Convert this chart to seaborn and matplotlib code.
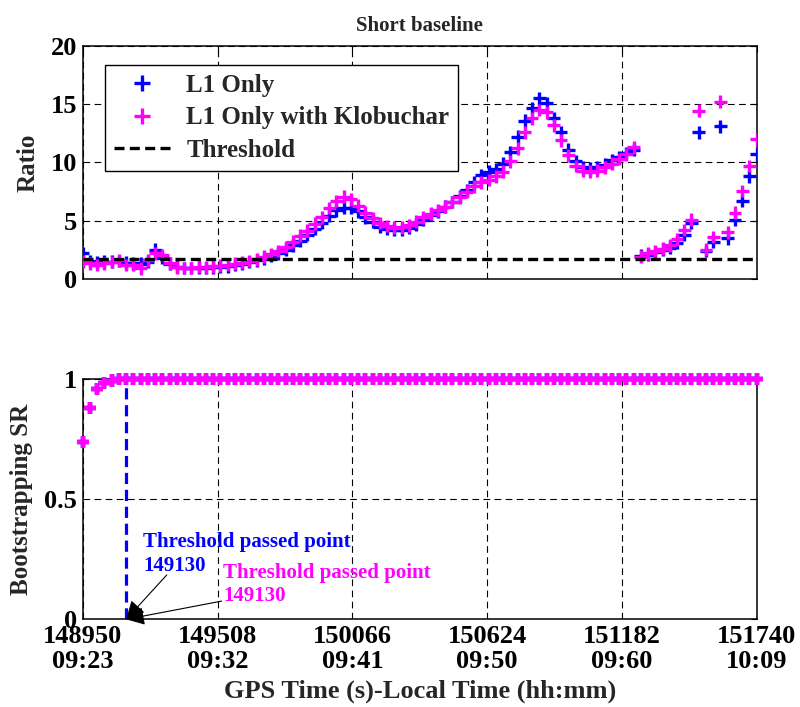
import numpy as np
import pandas as pd
import matplotlib
matplotlib.use("Agg")
import matplotlib.pyplot as plt
import seaborn as sns

# GPS epochs (s), 30 s sampling
gps_time = np.arange(148950, 151741, 30)

# Ratio-test values, L1 only
ratio_l1 = [
    2.2, 1.55, 1.45, 1.5, 1.5, 1.55, 1.4, 1.35, 1.3, 1.5,
    2.5, 1.8, 1.3, 1.05, 0.95, 0.95, 0.95, 0.95, 1.0, 1.05,
    1.1, 1.2, 1.3, 1.45, 1.6, 1.75, 2.0, 2.2, 2.5, 2.9,
    3.3, 3.8, 4.3, 4.8, 5.4, 5.9, 6.1, 6.1, 5.8, 5.3,
    4.9, 4.5, 4.3, 4.2, 4.2, 4.4, 4.7, 5.1, 5.5, 5.8,
    6.2, 6.6, 7.1, 7.6, 8.3, 8.9, 9.2, 9.4, 9.9, 10.9,
    12.2, 13.6, 14.65, 15.5, 15.1, 13.8, 12.6, 11.1, 10.1, 9.6,
    9.5, 9.6, 9.8, 10.2, 10.45, 10.8, 11.1, 2.0, 2.1, 2.3,
    2.5, 2.7, 3.1, 3.8, 4.8, 12.6, 2.4, 3.2, 13.1, 3.5,
    5.1, 6.7, 8.8, 10.7,
]

# Ratio-test values, L1 only with Klobuchar correction
ratio_klob = [
    1.5, 1.35, 1.2, 1.35, 1.45, 1.6, 1.2, 1.2, 0.9, 1.6,
    2.2, 2.05, 1.35, 1.0, 0.95, 0.95, 1.05, 1.0, 1.1, 1.15,
    1.2, 1.3, 1.4, 1.55, 1.7, 1.9, 2.15, 2.4, 2.75, 3.2,
    3.7, 4.15, 4.75, 5.3, 6.1, 6.7, 7.05, 6.85, 6.3, 5.7,
    5.2, 4.8, 4.55, 4.4, 4.45, 4.6, 4.9, 5.3, 5.6, 5.9,
    6.2, 6.6, 7.0, 7.5, 7.95, 8.3, 8.5, 8.8, 9.2, 10.1,
    11.2, 12.6, 13.8, 14.5, 14.3, 13.2, 11.9, 10.6, 9.7, 9.3,
    9.2, 9.3, 9.6, 9.9, 10.3, 10.7, 11.3, 1.9, 2.2, 2.4,
    2.6, 2.9, 3.4, 4.2, 5.1, 14.45, 2.5, 3.6, 15.2, 4.0,
    5.7, 7.55, 9.7, 12.0,
]

# Bootstrapping success rate (identical for both processing modes)
sr_l1 = [0.74, 0.88, 0.96, 0.985, 0.995] + [1.0] * 89
sr_klob = [0.74, 0.88, 0.96, 0.985, 0.995] + [1.0] * 89

ratio_threshold = 1.7
passed_time = 149130

tick_values = [148950, 149508, 150066, 150624, 151182, 151740]
tick_labels = ["148950\n09:23", "149508\n09:32", "150066\n09:41",
               "150624\n09:50", "151182\n09:60", "151740\n10:09"]

series_names = ["L1 Only", "L1 Only with Klobuchar"]
series_colors = ["#0000ff", "#ff00ff"]

sns.set_theme(style="white")
plt.rcParams["font.family"] = ["Liberation Serif", "DejaVu Serif"]
plt.rcParams["font.weight"] = "bold"
plt.rcParams["axes.labelweight"] = "bold"
plt.rcParams["axes.titleweight"] = "bold"

df = pd.DataFrame({
    "time": np.concatenate([gps_time, gps_time]),
    "ratio": ratio_l1 + ratio_klob,
    "sr": sr_l1 + sr_klob,
    "mode": [series_names[0]] * len(gps_time) + [series_names[1]] * len(gps_time),
})

fig = plt.figure(figsize=(8.0, 7.07), dpi=100)
ax1 = fig.add_axes([0.1034, 0.6054, 0.8425, 0.3296])
ax2 = fig.add_axes([0.1034, 0.124, 0.8425, 0.3395])

grid_kw = dict(color="black", linestyle=(0, (6, 4)), linewidth=0.8)

for ax in (ax1, ax2):
    ax.set_axisbelow(True)
    ax.grid(True, **grid_kw)
    for sp in ax.spines.values():
        sp.set_color("black")
        sp.set_linewidth(1.1)
    ax.tick_params(direction="in", length=4, width=0.8, colors="black",
                   top=True, right=True, labelsize=19, pad=4)
    ax.set_xlim(148950, 151740)
    ax.set_xticks(tick_values)

# --- Ratio panel ---
sns.scatterplot(data=df, x="time", y="ratio", hue="mode", palette=series_colors,
                marker="+", s=85, linewidth=2.4, ax=ax1, legend=False, zorder=3)
sns.lineplot(x=[gps_time[0], gps_time[-1]], y=[ratio_threshold, ratio_threshold],
             color="black", linestyle=(0, (3, 1.6)), linewidth=2.4, ax=ax1, zorder=4)
ax1.set_ylim(0, 20)
ax1.set_yticks([0, 5, 10, 15, 20])
ax1.set_xticklabels([])
ax1.set_xlabel("")
ax1.set_ylabel("Ratio", fontsize=18, labelpad=8)
ax1.set_title("Short baseline", fontsize=15, pad=11)

handles = [
    plt.Line2D([], [], marker="+", linestyle="none", color=series_colors[0],
               markersize=11, markeredgewidth=2.4),
    plt.Line2D([], [], marker="+", linestyle="none", color=series_colors[1],
               markersize=11, markeredgewidth=2.4),
    plt.Line2D([], [], color="black", linestyle=(0, (3, 1.6)), linewidth=2.4),
]
leg = ax1.legend(handles, series_names + ["Threshold"], loc="upper left",
                 bbox_to_anchor=(0.033, 0.918), borderaxespad=0,
                 frameon=True, fancybox=False, framealpha=1, edgecolor="black",
                 handlelength=2.3, handletextpad=0.6, borderpad=0.35,
                 labelspacing=0.38, prop={"weight": "bold", "size": 18})
leg.get_frame().set_linewidth(1.0)

# --- Success-rate panel ---
sns.scatterplot(data=df, x="time", y="sr", hue="mode", palette=series_colors,
                marker="+", s=75, linewidth=3.2, ax=ax2, legend=False, zorder=3,
                clip_on=False)
ax2.plot([passed_time, passed_time], [0, 1], color="#0000ff",
         linestyle=(0, (3.5, 1.8)), linewidth=2.3, zorder=2)
ax2.set_ylim(0, 1)
ax2.set_yticks([0, 0.5, 1])
ax2.set_yticklabels(["0", "0.5", "1"])
ax2.set_xticklabels(tick_labels, linespacing=1.12)
ax2.set_ylabel("Bootstrapping SR", fontsize=18, labelpad=8)
ax2.set_xlabel("GPS Time (s)-Local Time (hh:mm)", fontsize=19, labelpad=5)

# Annotation text, one line per text object
note_kw = dict(fontsize=15, fontweight="bold", ha="left", va="center")
ax2.text(149200, 0.322, "Threshold passed point", color="#0000ff", **note_kw)
ax2.text(149200, 0.222, "149130", color="#0000ff", **note_kw)
ax2.text(149531, 0.195, "Threshold passed point", color="#ff00ff", **note_kw)
ax2.text(149531, 0.097, "149130", color="#ff00ff", **note_kw)

arrow_kw = dict(arrowstyle="-|>", color="black", lw=0.8, mutation_scale=28,
                shrinkA=0, shrinkB=0)
ax2.annotate("", xy=(passed_time, 0), xytext=(149298, 0.185), arrowprops=arrow_kw)
ax2.annotate("", xy=(passed_time, 0), xytext=(149525, 0.076), arrowprops=arrow_kw)

fig.savefig("out.png", dpi=100)
